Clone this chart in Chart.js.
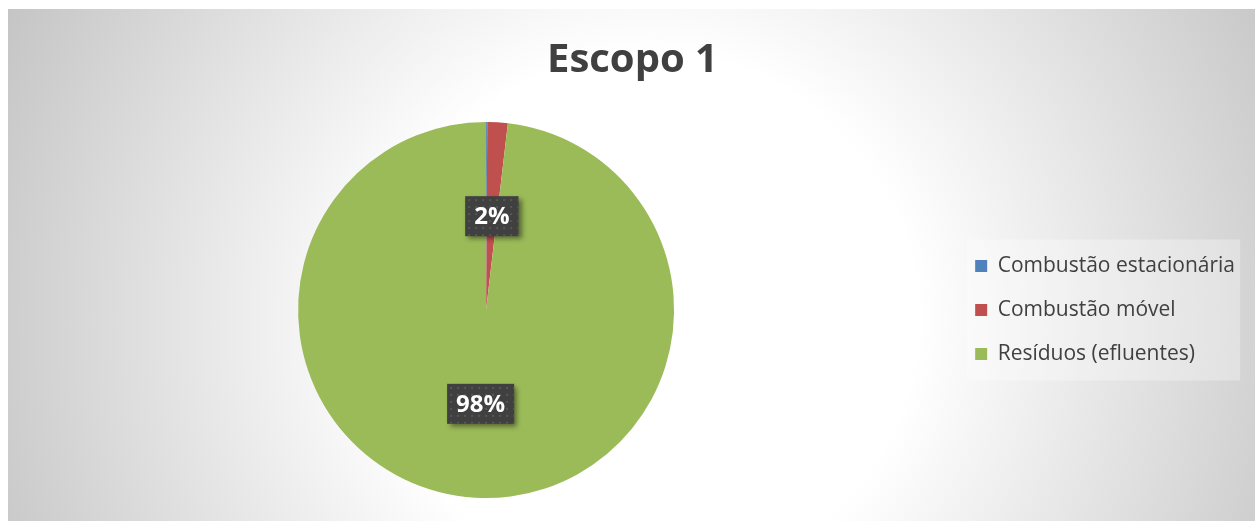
<!DOCTYPE html>
<html lang="pt-BR">
<head>
    <meta charset="UTF-8">
    <title>Escopo 1</title>
    <script src="https://cdn.jsdelivr.net/npm/chart.js"></script>
    <style>
        html, body { margin: 0; padding: 0; background: #fff; }
        canvas { display: block; }
    </style>
</head>
<body>
<canvas id="escopoChart" width="1255" height="521"></canvas>

<script>
    // dados (participação em %)
    const categorias = ['Combustão estacionária', 'Combustão móvel', 'Resíduos (efluentes)'];
    const valores = [0.1, 1.75, 98.15];
    const cores = ['#4F81BD', '#C0504D', '#9BBB59'];

    // fundo com gradiente radial (claro no centro, cinza nas bordas)
    const fundo = {
        id: 'fundo',
        beforeDraw(chart) {
            const ctx = chart.ctx;
            ctx.save();
            ctx.fillStyle = '#ffffff';
            ctx.fillRect(0, 0, chart.width, chart.height);
            const g = ctx.createRadialGradient(650, 320, 0, 650, 320, 720);
            g.addColorStop(0, '#ffffff');
            g.addColorStop(0.37, '#ffffff');
            g.addColorStop(1, '#c4c4c4');
            ctx.fillStyle = g;
            ctx.fillRect(8, 9, chart.width - 8, chart.height - 9);
            // caixa clara atrás da legenda
            const boxes = chart.legend.legendHitBoxes;
            if (boxes && boxes.length) {
                const first = boxes[0], last = boxes[boxes.length - 1];
                ctx.fillStyle = 'rgba(255,255,255,0.3)';
                ctx.fillRect(first.left - 8, first.top - 16, 273, last.top + last.height - first.top + 32);
            }
            ctx.restore();
        }
    };

    // rótulos de porcentagem em caixas escuras
    const rotulos = {
        id: 'rotulos',
        afterDatasetsDraw(chart) {
            const ctx = chart.ctx;
            const meta = chart.getDatasetMeta(0);
            const total = valores.reduce((a, b) => a + b, 0);
            meta.data.forEach((arc, i) => {
                const pct = valores[i] / total * 100;
                if (pct < 0.5) return;
                const texto = Math.round(pct) + '%';
                const pos = arc.tooltipPosition();
                ctx.save();
                ctx.font = 'bold 24px "Open Sans"';
                const w = ctx.measureText(texto).width + 18;
                const h = 40;
                const x = pos.x - w / 2, y = pos.y - h / 2;
                ctx.shadowColor = 'rgba(0,0,0,0.45)';
                ctx.shadowBlur = 5;
                ctx.shadowOffsetX = 3;
                ctx.shadowOffsetY = 3;
                ctx.fillStyle = '#404040';
                ctx.fillRect(x, y, w, h);
                ctx.shadowColor = 'transparent';
                ctx.beginPath();
                ctx.rect(x, y, w, h);
                ctx.clip();
                ctx.fillStyle = '#575757';
                for (let dx = 3; dx < w; dx += 7) {
                    for (let dy = 3; dy < h; dy += 7) {
                        ctx.fillRect(x + dx, y + dy, 2, 2);
                    }
                }
                ctx.fillStyle = '#ffffff';
                ctx.textAlign = 'center';
                ctx.textBaseline = 'middle';
                ctx.fillText(texto, pos.x, pos.y + 1);
                ctx.restore();
            });
        }
    };

    const ctx = document.getElementById('escopoChart').getContext('2d');
    new Chart(ctx, {
        type: 'pie',
        data: {
            labels: categorias,
            datasets: [{
                data: valores,
                backgroundColor: cores,
                borderWidth: 0
            }]
        },
        options: {
            responsive: false,
            animation: false,
            layout: {
                padding: { left: 20, top: 9, right: 10, bottom: 23 }
            },
            plugins: {
                title: {
                    display: true,
                    text: 'Escopo 1',
                    color: '#404040',
                    font: { family: 'Open Sans', size: 40, weight: 'bold' },
                    padding: { top: 28, bottom: 37 }
                },
                legend: {
                    position: 'right',
                    fullSize: false,
                    labels: {
                        color: '#404040',
                        font: { family: 'Open Sans', size: 21 },
                        boxWidth: 12,
                        boxHeight: 12,
                        padding: 23
                    }
                },
                tooltip: { enabled: false }
            }
        },
        plugins: [fundo, rotulos]
    });
</script>
</body>
</html>
